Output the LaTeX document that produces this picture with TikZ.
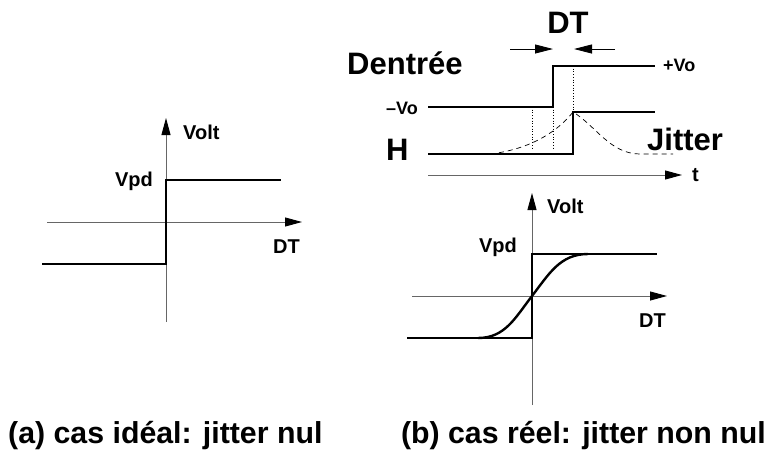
\documentclass[tikz,border=0pt]{standalone}
\usepackage{fontspec}
\setmainfont{Liberation Sans}
\usetikzlibrary{arrows.meta}
\begin{document}
\begin{tikzpicture}[x=1pt,y=-1pt,
  sig/.style={line width=2.8pt, line join=miter},
  axis/.style={line width=0.9pt, draw=black!60, -{Triangle[length=17pt,width=9pt,black]}},
  thinline/.style={line width=0.7pt},
  dimarrow/.style={line width=0.9pt, -{Triangle[length=18pt,width=9pt]}},
  lab/.style={inner sep=0pt, font=\bfseries\fontsize{20}{20}\selectfont},
  smalllab/.style={inner sep=0pt, font=\bfseries\fontsize{18}{18}\selectfont},
  biglab/.style={inner sep=0pt, font=\bfseries\fontsize{31}{31}\selectfont},
  captext/.style={inner sep=0pt, font=\bfseries\fontsize{30.3}{30}\selectfont}
]
\useasboundingbox (0,0) rectangle (771,451);

% ---------- (a) ideal ----------
\coordinate (aYb) at (166,322);
\coordinate (aYt) at (166,118);
\coordinate (aXl) at (47,222);
\coordinate (aXr) at (302,222);
\draw[axis] (aYb) -- (aYt);
\draw[axis] (aXl) -- (aXr);
\coordinate (aS0) at (42,264);
\coordinate (aS1) at (166,264);
\coordinate (aS2) at (166,180);
\coordinate (aS3) at (281,180);
\draw[sig] (aS0) -- (aS1) -- (aS2) -- (aS3);
\node[lab, anchor=base west] (aVolt) at (183,139) {Volt};
\node[lab, anchor=base east] (aVpd) at (153,186) {Vpd};
\node[lab, anchor=base east] (aDT) at (300,253) {DT};

% ---------- (b) real: transfer ----------
\coordinate (bYb) at (532,405);
\coordinate (bYt) at (532,193);
\coordinate (bXl) at (412,296);
\coordinate (bXr) at (667,296);
\draw[axis] (bYb) -- (bYt);
\draw[axis] (bXl) -- (bXr);
\coordinate (bS0) at (407,338);
\coordinate (bS1) at (532,338);
\coordinate (bS2) at (532,254);
\coordinate (bS3) at (657,254);
\draw[sig] (bS0) -- (bS1) -- (bS2) -- (bS3);
\coordinate (bC0) at (478,338);
\coordinate (bC1) at (532,296);
\coordinate (bC2) at (588,254);
\draw[line width=2.4pt] (bC0) .. controls (505,338) and (515,318) .. (bC1)
  .. controls (549,274) and (560,254) .. (bC2);
\node[lab, anchor=base west] (bVolt) at (547,213) {Volt};
\node[lab, anchor=base east] (bVpd) at (517,252) {Vpd};
\node[lab, anchor=base east] (bDT) at (666,327) {DT};

% ---------- (b) real: timing ----------
\node[biglab, anchor=base] (tDT) at (568,33) {DT};
\coordinate (dA0) at (510,49);
\coordinate (dA1) at (553,49);
\coordinate (dB0) at (615,49);
\coordinate (dB1) at (574,49);
\draw[dimarrow] (dA0) -- (dA1);
\draw[dimarrow] (dB0) -- (dB1);

\node[biglab, anchor=base west] (tDen) at (347,74) {Dentrée};
\coordinate (e0) at (428,107);
\coordinate (e1) at (553,107);
\coordinate (e2) at (553,66);
\coordinate (e3) at (655,66);
\draw[sig] (e0) -- (e1) -- (e2) -- (e3);
\node[smalllab, anchor=base west] (tpV) at (663,71) {+Vo};
\node[smalllab, anchor=base east] (tmV) at (418,114) {–Vo};

\node[biglab, anchor=base west] (tH) at (386,160) {H};
\coordinate (h0) at (428,154);
\coordinate (h1) at (573,154);
\coordinate (h2) at (573,112);
\coordinate (h3) at (655,112);
\draw[sig] (h0) -- (h1) -- (h2) -- (h3);
\node[biglab, anchor=base west] (tJit) at (647,150) {Jitter};

% jitter curve
\coordinate (j0) at (490,154);
\coordinate (jP) at (573,112);
\coordinate (j1) at (673,154);
\draw[thinline, dash pattern=on 5pt off 4pt] (j0) .. controls (525,150) and (555,135) .. (jP)
  .. controls (595,125) and (610,154) .. (640,154) -- (j1);

% dotted markers
\coordinate (m1t) at (532,107);
\coordinate (m1b) at (532,150);
\coordinate (m2t) at (553,107);
\coordinate (m2b) at (553,150);
\coordinate (m3t) at (573,66);
\coordinate (m3b) at (573,112);
\draw[thinline, dotted] (m1t) -- (m1b);
\draw[thinline, dotted] (m2t) -- (m2b);
\draw[thinline, dotted] (m3t) -- (m3b);

% time axis
\coordinate (t0) at (428,175);
\coordinate (t1) at (682,175);
\draw[axis] (t0) -- (t1);
\node[lab, anchor=base west] (tt) at (692,181) {t};

% ---------- captions ----------
\node[captext, anchor=base west] (capA) at (8,443) {(a) cas idéal: jitter nul};
\node[captext, anchor=base east] (capB) at (766,443) {(b) cas réel: jitter non nul};
\end{tikzpicture}
\end{document}
